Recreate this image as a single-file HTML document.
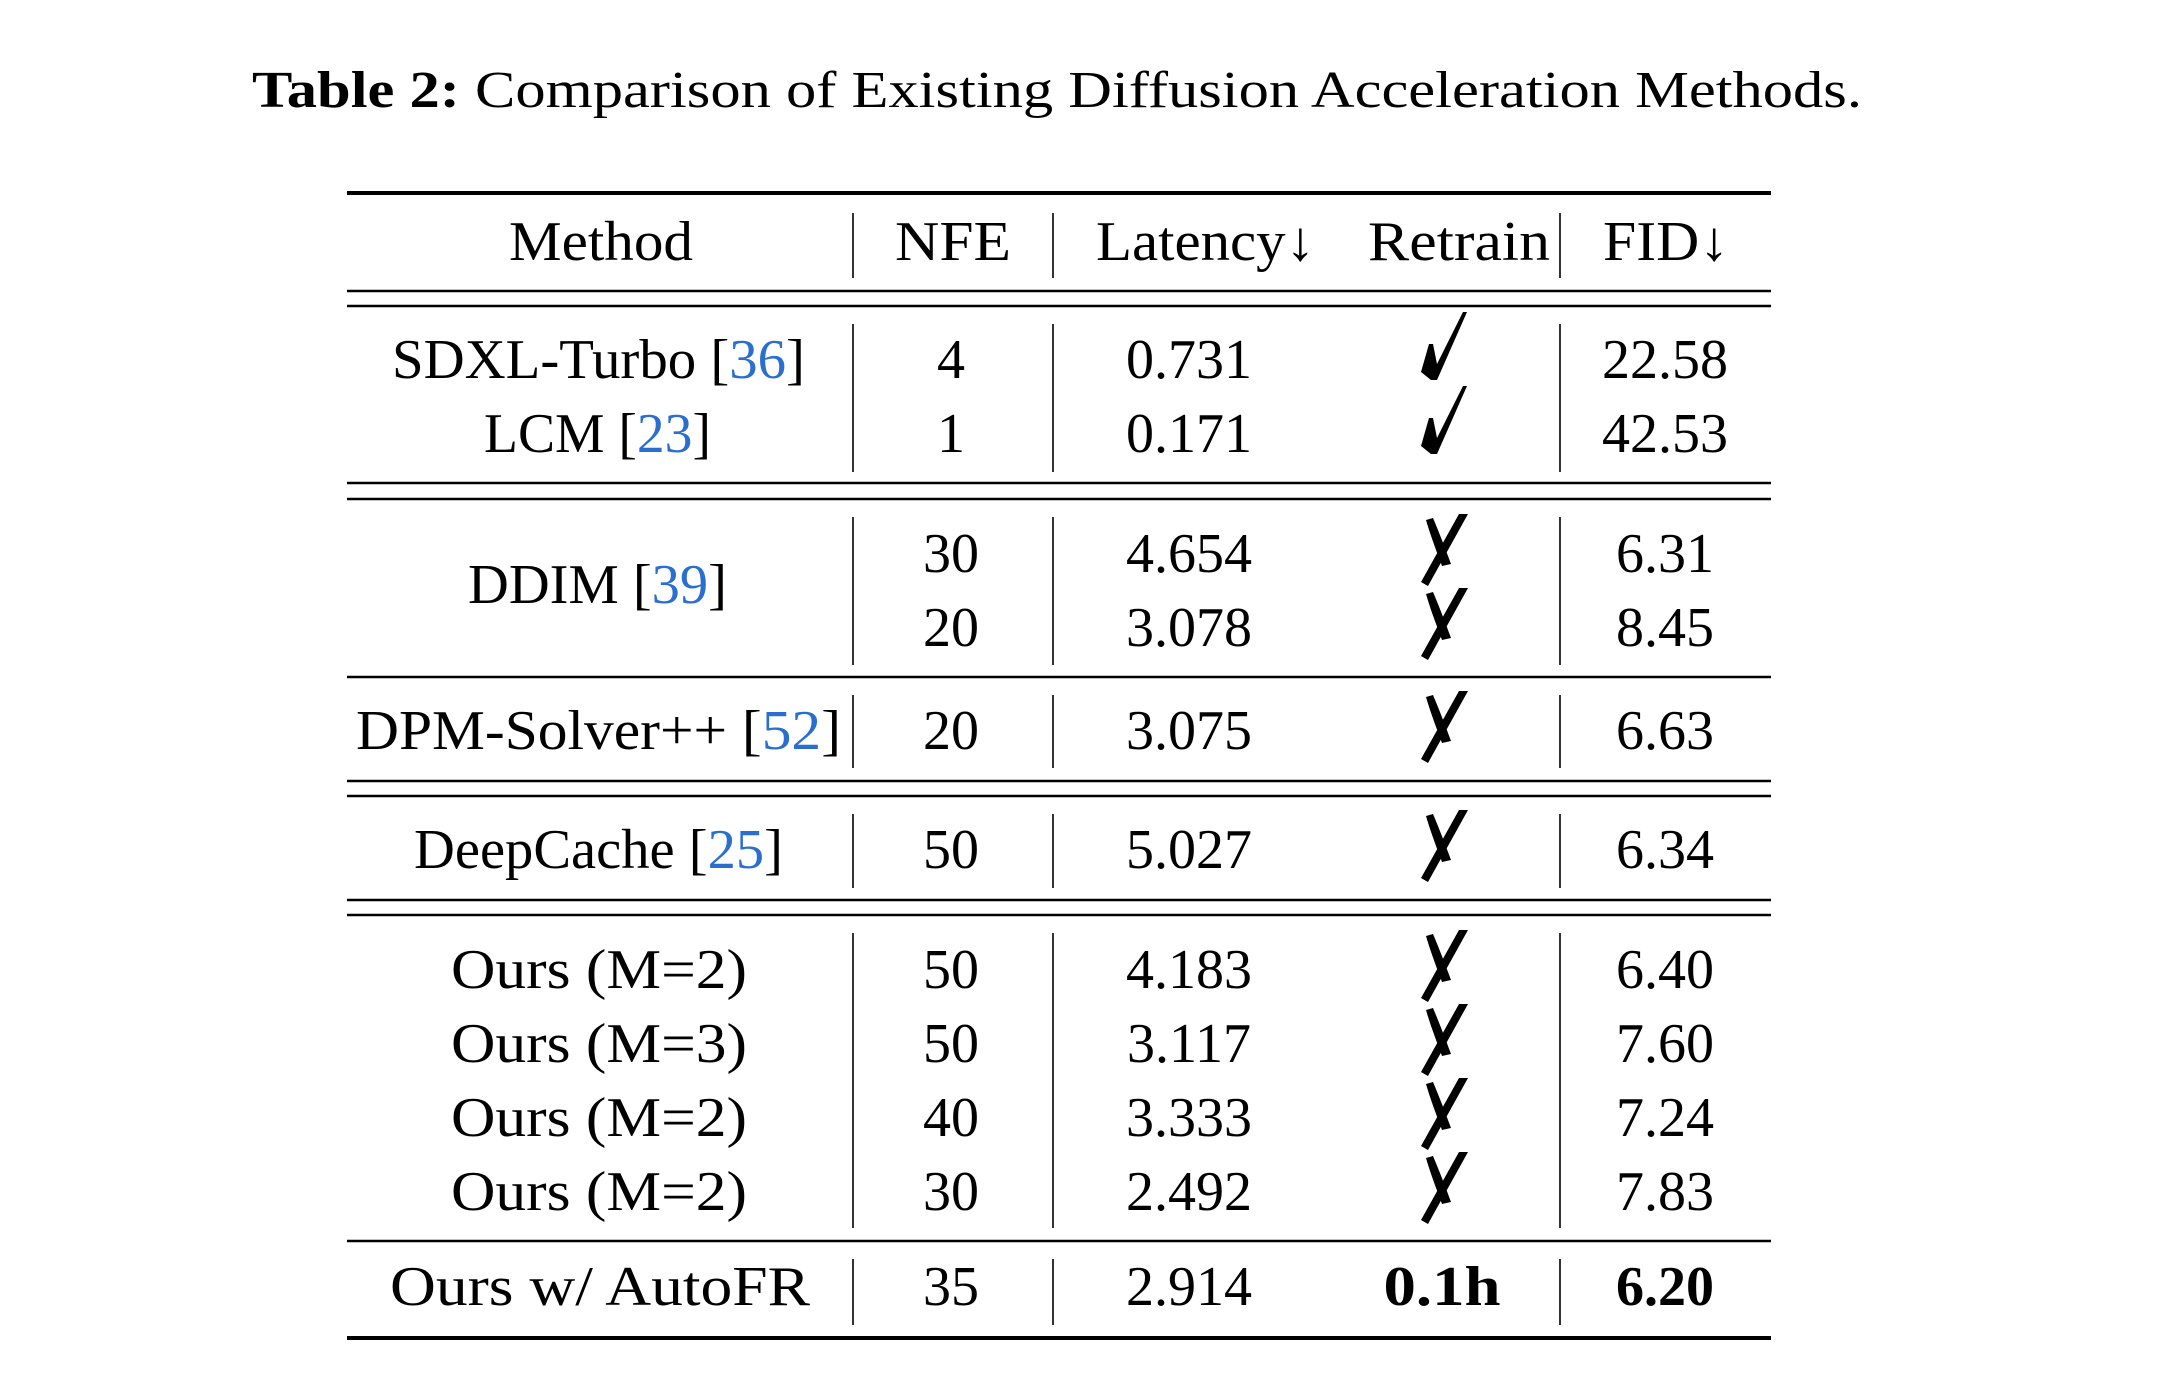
<!DOCTYPE html>
<html><head><meta charset="utf-8"><style>
html,body{margin:0;padding:0;background:#fff;}
svg{display:block;}
text{font-family:"Liberation Serif",serif;fill:#000;}
</style></head><body>
<svg width="2168" height="1380" viewBox="0 0 2168 1380">
<text x="252" y="107" font-size="52" textLength="1610" lengthAdjust="spacingAndGlyphs"><tspan font-weight="bold">Table 2:</tspan> Comparison of Existing Diffusion Acceleration Methods.</text>

<g stroke="#000">
<line x1="347" x2="1771" y1="193" y2="193" stroke-width="4"/>
<line x1="347" x2="1771" y1="291" y2="291" stroke-width="2.5"/>
<line x1="347" x2="1771" y1="306" y2="306" stroke-width="2.5"/>
<line x1="347" x2="1771" y1="483" y2="483" stroke-width="2.5"/>
<line x1="347" x2="1771" y1="499" y2="499" stroke-width="2.5"/>
<line x1="347" x2="1771" y1="677" y2="677" stroke-width="2.5"/>
<line x1="347" x2="1771" y1="781" y2="781" stroke-width="2.5"/>
<line x1="347" x2="1771" y1="796" y2="796" stroke-width="2.5"/>
<line x1="347" x2="1771" y1="900" y2="900" stroke-width="2.5"/>
<line x1="347" x2="1771" y1="915" y2="915" stroke-width="2.5"/>
<line x1="347" x2="1771" y1="1241" y2="1241" stroke-width="2.5"/>
<line x1="347" x2="1771" y1="1338" y2="1338" stroke-width="4"/>
</g>
<g stroke="#000" stroke-width="1.6">
<path d="M853 213V278M1053 213V278M1560 213V278
M853 324V472M1053 324V472M1560 324V472
M853 517V665M1053 517V665M1560 517V665
M853 695V768M1053 695V768M1560 695V768
M853 814V888M1053 814V888M1560 814V888
M853 933V1228M1053 933V1228M1560 933V1228
M853 1259V1325M1053 1259V1325M1560 1259V1325"/>
</g>

<g font-size="56">
<text x="509" y="260" textLength="184" lengthAdjust="spacingAndGlyphs">Method</text>
<text x="895" y="260" textLength="116" lengthAdjust="spacingAndGlyphs">NFE</text>
<text x="1096" y="260" textLength="219" lengthAdjust="spacingAndGlyphs">Latency↓</text>
<text x="1368" y="260" textLength="182" lengthAdjust="spacingAndGlyphs">Retrain</text>
<text x="1603" y="260" textLength="126" lengthAdjust="spacingAndGlyphs">FID↓</text>
</g>

<g font-size="56">
<text x="392" y="378" textLength="413" lengthAdjust="spacingAndGlyphs">SDXL-Turbo [<tspan style="fill:#2a6fd0">36</tspan>]</text>
<text x="484" y="452" textLength="227" lengthAdjust="spacingAndGlyphs">LCM [<tspan style="fill:#2a6fd0">23</tspan>]</text>
<text x="468" y="603" textLength="259" lengthAdjust="spacingAndGlyphs">DDIM [<tspan style="fill:#2a6fd0">39</tspan>]</text>
<text x="356" y="749" textLength="485" lengthAdjust="spacingAndGlyphs">DPM-Solver++ [<tspan style="fill:#2a6fd0">52</tspan>]</text>
<text x="414" y="868" textLength="369" lengthAdjust="spacingAndGlyphs">DeepCache [<tspan style="fill:#2a6fd0">25</tspan>]</text>
<text x="451" y="988" textLength="296" lengthAdjust="spacingAndGlyphs">Ours (M=2)</text>
<text x="451" y="1062" textLength="296" lengthAdjust="spacingAndGlyphs">Ours (M=3)</text>
<text x="451" y="1136" textLength="296" lengthAdjust="spacingAndGlyphs">Ours (M=2)</text>
<text x="451" y="1210" textLength="296" lengthAdjust="spacingAndGlyphs">Ours (M=2)</text>
<text x="390" y="1305" textLength="420" lengthAdjust="spacingAndGlyphs">Ours w/ AutoFR</text>
</g>

<g font-size="56" text-anchor="middle">
<text x="951" y="378">4</text><text x="951" y="452">1</text>
<text x="951" y="572">30</text><text x="951" y="646">20</text>
<text x="951" y="749">20</text><text x="951" y="868">50</text>
<text x="951" y="988">50</text><text x="951" y="1062">50</text>
<text x="951" y="1136">40</text><text x="951" y="1210">30</text>
<text x="951" y="1305">35</text>
</g>

<g font-size="56" text-anchor="middle">
<text x="1189" y="378">0.731</text><text x="1189" y="452">0.171</text>
<text x="1189" y="572">4.654</text><text x="1189" y="646">3.078</text>
<text x="1189" y="749">3.075</text><text x="1189" y="868">5.027</text>
<text x="1189" y="988">4.183</text><text x="1189" y="1062">3.117</text>
<text x="1189" y="1136">3.333</text><text x="1189" y="1210">2.492</text>
<text x="1189" y="1305">2.914</text>
</g>

<defs>
<g id="chk"><path d="M-22 30 L-14 2 L-10 2 L-6 22 L20 -30 L24 -30 L-6 38 L-12 38 Z" fill="#000"/></g>
<g id="crs"><path d="M-24 30 L14 -38 L23 -38 L-17 34 Z" fill="#000"/><path d="M-12 -34 C-6 -20 0 -4 6 12 L-3 14 C-9 -2 -15 -18 -19 -32 Z" fill="#000"/></g>
</defs>
<g>
<use href="#chk" x="1443" y="342"/>
<use href="#chk" x="1443" y="416"/>
<use href="#crs" x="1445" y="552"/>
<use href="#crs" x="1445" y="626"/>
<use href="#crs" x="1445" y="729"/>
<use href="#crs" x="1445" y="848"/>
<use href="#crs" x="1445" y="968"/>
<use href="#crs" x="1445" y="1042"/>
<use href="#crs" x="1445" y="1116"/>
<use href="#crs" x="1445" y="1190"/>
<text x="1442" y="1305" font-size="56" font-weight="bold" text-anchor="middle" textLength="117" lengthAdjust="spacingAndGlyphs">0.1h</text>
</g>

<g font-size="56" text-anchor="middle">
<text x="1665" y="378">22.58</text><text x="1665" y="452">42.53</text>
<text x="1665" y="572">6.31</text><text x="1665" y="646">8.45</text>
<text x="1665" y="749">6.63</text><text x="1665" y="868">6.34</text>
<text x="1665" y="988">6.40</text><text x="1665" y="1062">7.60</text>
<text x="1665" y="1136">7.24</text><text x="1665" y="1210">7.83</text>
<text x="1665" y="1305" font-weight="bold">6.20</text>
</g>
</svg>
</body></html>
